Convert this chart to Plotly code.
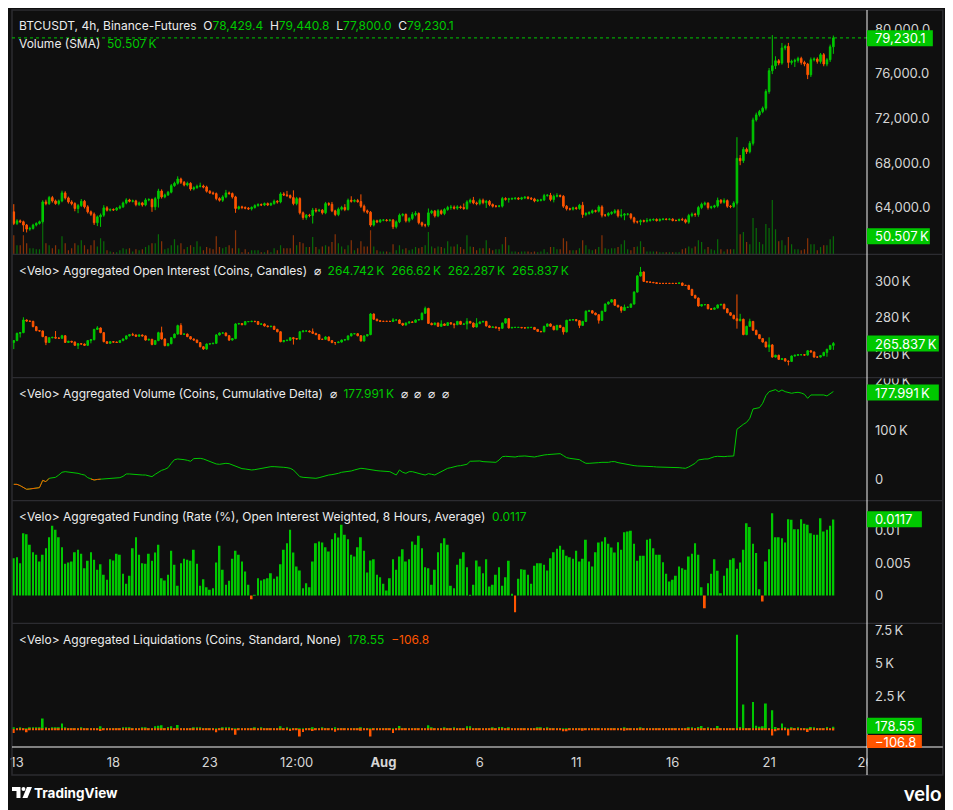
import pandas as pd
import plotly.graph_objects as go

# ---------------- data: BTCUSDT perp, 4h bars from 2024-07-12 20:00 ----------------
first_open_price = 63610
price_close = [
    62570, 62800, 62720, 62420, 62060, 62120, 62420, 62570, 62720, 64500,
    64350, 64890, 64590, 64350, 64590, 65310, 64860, 64500, 64350, 63910,
    64170, 64560, 64060, 63610, 63400, 62630, 63160, 63310, 63970, 63760,
    63820, 63790, 63940, 64060, 64410, 64680, 64560, 64590, 64260, 64410,
    64230, 64680, 64710, 64060, 64800, 65480, 64950, 65130, 65370, 65960,
    66170, 66560, 66260, 66020, 66170, 65660, 65780, 65900, 65930, 65840,
    65460, 65310, 65250, 64800, 64650, 64950, 65310, 65250, 64950, 63910,
    64060, 64000, 63940, 63880, 64000, 64170, 64260, 64230, 64350, 64230,
    64350, 64560, 64500, 65220, 65130, 65070, 64890, 64350, 64800, 63520,
    63100, 63310, 63280, 63760, 63700, 63760, 63520, 64350, 64290, 63700,
    63370, 63850, 64000, 63820, 64650, 64560, 64620, 64530, 64115, 63700,
    63580, 62420, 62805, 62715, 62865, 62865, 62835, 62865, 62270, 62715,
    63310, 63370, 62805, 63015, 63370, 63460, 62630, 62420, 62420, 63520,
    63670, 63250, 63700, 63460, 63820, 64000, 64030, 63940, 64055, 64000,
    63910, 64500, 64650, 64410, 64350, 64650, 64440, 64560, 64265, 64115,
    64115, 64120, 64800, 64740, 64770, 64800, 64830, 64770, 64860, 64920,
    64830, 64770, 64590, 64650, 64680, 65070, 65100, 64710, 65010, 65070,
    65010, 64115, 63880, 63850, 63970, 63910, 64205, 63370, 63460, 63550,
    63700, 63670, 64055, 63310, 63310, 63460, 63550, 63700, 63250, 63310,
    63400, 63400, 63070, 62715, 62715, 62805, 62775, 62835, 62895, 62925,
    62835, 62925, 62955, 62925, 62955, 62835, 62835, 62925, 62895, 62685,
    63280, 63400, 63370, 64000, 64290, 64380, 64000, 64055, 64145, 64650,
    64470, 64620, 64115, 64085, 64410, 68415, 68200, 69226, 69010, 69766,
    71866, 72316, 72614, 72920, 74416, 76280, 76730, 77180, 76974, 78326,
    78470, 77028, 77120, 77210, 77390, 77028, 76884, 75920, 77270, 77330,
    77120, 77722, 76884, 77270, 78429.4, 79230.1,
]
price_wick_up = [
    690, 150, 120, 100, 100, 150, 120, 100, 100, 150,
    200, 150, 150, 120, 120, 200, 150, 120, 150, 120,
    150, 200, 120, 150, 120, 150, 120, 150, 240, 150,
    100, 100, 100, 150, 120, 150, 100, 120, 100, 120,
    100, 150, 120, 100, 150, 200, 150, 120, 120, 150,
    150, 240, 120, 120, 150, 100, 120, 150, 300, 120,
    120, 100, 120, 100, 120, 150, 270, 120, 100, 100,
    100, 100, 100, 100, 100, 120, 120, 100, 100, 100,
    100, 150, 100, 150, 150, 360, 100, 650, 150, 120,
    120, 100, 120, 200, 200, 120, 100, 150, 120, 210,
    100, 150, 150, 300, 150, 360, 120, 150, 650, 150,
    120, 100, 120, 100, 100, 100, 100, 100, 100, 120,
    150, 120, 100, 120, 210, 210, 100, 100, 120, 390,
    120, 100, 150, 120, 120, 150, 200, 150, 150, 120,
    360, 150, 150, 300, 120, 150, 150, 120, 120, 100,
    100, 100, 150, 120, 100, 100, 100, 100, 100, 100,
    100, 100, 100, 100, 100, 150, 100, 210, 150, 210,
    100, 100, 100, 100, 100, 100, 120, 300, 120, 120,
    120, 100, 150, 150, 100, 120, 120, 150, 150, 540,
    100, 100, 100, 100, 100, 120, 100, 210, 100, 100,
    100, 100, 80, 80, 80, 80, 80, 80, 150, 100,
    150, 150, 120, 150, 150, 150, 100, 100, 100, 240,
    100, 200, 100, 100, 150, 1900, 300, 200, 150, 200,
    200, 200, 150, 150, 200, 250, 2750, 400, 150, 450,
    150, 310, 150, 150, 150, 150, 150, 100, 200, 150,
    150, 150, 150, 150, 200, 210.7,
]
price_wick_dn = [
    150, 150, 120, 600, 300, 150, 100, 120, 100, 150,
    150, 120, 150, 100, 150, 120, 150, 150, 150, 250,
    420, 120, 150, 150, 150, 200, 300, 900, 150, 120,
    100, 100, 100, 100, 100, 120, 100, 100, 150, 120,
    150, 120, 120, 450, 300, 800, 150, 120, 100, 100,
    100, 120, 150, 120, 120, 150, 120, 100, 100, 120,
    120, 100, 120, 150, 120, 150, 120, 100, 150, 390,
    120, 150, 100, 100, 150, 100, 100, 100, 100, 100,
    100, 100, 150, 120, 100, 120, 100, 150, 150, 150,
    200, 200, 150, 720, 150, 100, 150, 120, 150, 120,
    150, 150, 120, 150, 100, 120, 100, 100, 150, 150,
    150, 150, 120, 120, 100, 100, 100, 100, 210, 150,
    120, 120, 150, 150, 150, 150, 150, 150, 200, 150,
    120, 150, 120, 120, 150, 120, 200, 120, 150, 120,
    120, 120, 150, 120, 150, 150, 150, 480, 150, 120,
    120, 100, 120, 120, 300, 100, 100, 100, 100, 100,
    100, 100, 120, 100, 100, 100, 100, 150, 250, 100,
    100, 150, 150, 120, 120, 120, 120, 300, 150, 120,
    120, 120, 120, 200, 150, 120, 120, 120, 150, 150,
    450, 120, 150, 150, 150, 300, 120, 120, 100, 100,
    100, 100, 80, 80, 80, 80, 80, 80, 100, 120,
    150, 150, 200, 200, 150, 120, 180, 150, 120, 150,
    150, 120, 150, 150, 120, 150, 400, 200, 200, 150,
    200, 150, 150, 150, 200, 200, 300, 300, 200, 150,
    200, 500, 200, 500, 200, 200, 200, 390, 200, 150,
    200, 200, 200, 200, 200, 629.4,
]
volume_k = [
    53, 25, 25, 53, 31, 17, 17, 14, 14, 87,
    31, 25, 17, 25, 14, 50, 31, 11, 17, 31,
    25, 39, 25, 14, 25, 39, 22, 45, 36, 11,
    8, 6, 6, 11, 17, 14, 17, 8, 14, 11,
    14, 20, 25, 31, 31, 56, 36, 14, 17, 25,
    42, 25, 31, 14, 20, 25, 20, 36, 22, 11,
    20, 17, 14, 50, 20, 17, 20, 25, 17, 67,
    17, 6, 14, 6, 11, 11, 11, 6, 6, 11,
    6, 17, 11, 25, 17, 17, 17, 53, 25, 34,
    31, 20, 20, 48, 20, 14, 22, 25, 22, 34,
    56, 31, 22, 14, 25, 39, 11, 17, 36, 22,
    22, 67, 22, 11, 8, 8, 8, 6, 28, 11,
    25, 14, 17, 11, 14, 20, 17, 20, 25, 62,
    22, 17, 22, 20, 17, 36, 22, 22, 28, 20,
    14, 53, 22, 20, 11, 17, 17, 39, 17, 11,
    14, 14, 28, 48, 25, 8, 8, 6, 8, 8,
    8, 6, 8, 6, 8, 14, 6, 20, 20, 14,
    14, 45, 36, 11, 11, 11, 17, 39, 25, 14,
    11, 14, 20, 53, 17, 14, 17, 17, 20, 28,
    39, 14, 11, 20, 22, 36, 20, 8, 8, 8,
    8, 6, 6, 6, 6, 6, 6, 6, 14, 17,
    22, 17, 22, 39, 34, 14, 20, 14, 11, 42,
    14, 8, 14, 14, 14, 143, 56, 62, 34, 28,
    101, 73, 34, 28, 84, 73, 151, 70, 36, 39,
    25, 48, 28, 14, 14, 11, 14, 45, 28, 28,
    11, 20, 25, 25, 42, 50.507,
]

first_open_oi = 266.3
oi_close = [
    267.4, 271.4, 271.8, 278.8, 278.2, 278.05, 275.1, 272.9, 272.7, 269.6,
    266.4, 269.0, 269.2, 268.8, 268.7, 270.1, 266.4, 267.0, 266.6, 264.8,
    265.7, 265.5, 264.8, 267.4, 267.9, 273.6, 274.4, 271.8, 266.8, 265.9,
    266.8, 266.6, 266.4, 267.4, 268.3, 270.0, 270.7, 270.5, 269.8, 270.5,
    270.0, 267.7, 268.1, 265.3, 267.4, 271.8, 268.3, 264.6, 265.7, 269.0,
    271.0, 275.7, 270.9, 271.0, 269.6, 268.3, 267.7, 266.3, 264.0, 262.8,
    265.5, 265.7, 265.9, 270.5, 271.6, 271.6, 270.1, 267.7, 268.5, 276.6,
    276.8, 276.2, 277.9, 277.9, 278.05, 277.9, 276.4, 276.6, 275.5, 275.1,
    275.3, 273.6, 272.3, 266.8, 267.4, 267.6, 269.0, 268.5, 268.3, 272.3,
    272.7, 272.7, 272.3, 271.4, 270.7, 268.1, 268.1, 269.4, 267.4, 266.3,
    266.3, 266.6, 267.7, 267.9, 270.0, 271.2, 271.2, 270.1, 267.2, 270.0,
    270.7, 282.1, 279.2, 278.4, 278.05, 278.05, 278.05, 278.0, 278.8, 278.8,
    276.9, 276.0, 277.1, 277.7, 277.5, 278.8, 279.0, 282.5, 285.2, 276.9,
    276.2, 277.1, 275.3, 276.6, 275.8, 277.3, 276.6, 276.2, 278.0, 276.4,
    276.6, 278.0, 277.1, 274.9, 276.8, 277.7, 278.0, 275.5, 274.7, 274.9,
    274.5, 274.2, 277.1, 279.5, 274.4, 274.7, 274.7, 274.7, 274.5, 274.4,
    274.7, 274.7, 273.6, 272.5, 272.3, 275.3, 276.6, 275.3, 273.4, 275.8,
    274.7, 272.2, 278.6, 278.8, 279.0, 278.4, 275.8, 278.0, 283.6, 283.9,
    282.6, 281.7, 278.6, 283.6, 287.6, 288.7, 290.0, 286.9, 286.0, 284.1,
    285.8, 285.8, 287.6, 294.2, 303.1, 305.3, 300.1, 299.8, 299.6, 299.4,
    299.0, 299.0, 299.0, 299.0, 299.0, 299.0, 299.0, 299.2, 297.9, 297.9,
    295.7, 292.4, 290.9, 286.5, 287.3, 287.3, 285.0, 284.7, 285.4, 287.1,
    287.4, 285.0, 282.8, 281.4, 279.5, 278.4, 279.2, 270.7, 275.3, 278.0,
    273.1, 270.7, 268.5, 266.6, 263.9, 265.0, 258.3, 259.3, 257.0, 257.4,
    256.1, 255.9, 258.9, 259.3, 259.6, 259.6, 259.4, 261.8, 261.1, 258.3,
    258.3, 259.1, 260.9, 262.6, 264.742, 265.837,
]
oi_wick_up = [
    0.3, 0.4, 0.3, 1.5, 0.3, 0.2, 0.3, 0.3, 0.3, 0.3,
    0.3, 0.3, 0.3, 3.5, 0.3, 0.5, 0.3, 0.3, 0.3, 0.3,
    0.3, 0.3, 0.3, 0.3, 0.3, 0.3, 1.0, 0.3, 0.3, 0.3,
    0.3, 0.2, 0.2, 0.3, 0.3, 0.3, 0.3, 1.0, 0.3, 0.3,
    0.3, 0.3, 0.3, 0.3, 0.3, 0.5, 3.3, 0.3, 0.3, 0.3,
    0.3, 0.5, 1.3, 0.3, 0.3, 0.3, 0.3, 0.3, 0.3, 0.3,
    0.3, 0.3, 0.3, 0.5, 0.3, 0.3, 0.3, 0.3, 0.3, 0.4,
    0.4, 0.3, 0.3, 0.3, 0.3, 0.3, 0.3, 0.3, 0.3, 0.3,
    0.3, 0.3, 0.3, 0.3, 0.3, 0.3, 0.3, 0.3, 0.3, 0.3,
    0.3, 0.3, 0.3, 1.8, 0.3, 0.3, 0.3, 0.5, 0.3, 0.3,
    0.3, 0.3, 0.3, 0.3, 0.3, 0.3, 0.3, 0.3, 0.3, 0.3,
    0.3, 0.5, 0.3, 0.3, 0.2, 0.2, 0.2, 0.2, 1.0, 0.3,
    0.3, 0.3, 0.3, 0.3, 0.3, 0.3, 0.3, 0.5, 1.0, 0.3,
    0.5, 0.3, 0.3, 2.0, 0.3, 0.3, 0.3, 0.3, 0.3, 0.3,
    0.3, 1.8, 0.3, 0.3, 3.0, 0.3, 0.3, 0.3, 0.3, 0.3,
    0.3, 0.3, 0.3, 0.3, 0.3, 0.2, 0.2, 0.2, 0.2, 0.2,
    0.2, 0.2, 0.2, 0.2, 0.2, 0.3, 0.3, 0.3, 0.3, 0.3,
    0.3, 0.3, 0.3, 0.3, 0.3, 0.3, 0.3, 0.3, 0.5, 0.5,
    0.3, 0.3, 0.3, 0.3, 0.3, 0.3, 0.3, 0.3, 0.3, 0.3,
    1.5, 0.3, 0.3, 0.5, 0.5, 2.8, 0.3, 0.2, 0.2, 0.2,
    0.2, 0.2, 0.2, 0.2, 0.2, 0.2, 0.2, 0.2, 0.3, 0.3,
    0.3, 0.3, 0.3, 0.3, 0.3, 0.3, 0.3, 0.3, 0.3, 0.3,
    0.3, 0.5, 0.3, 0.3, 0.3, 13.4, 3.0, 0.3, 0.3, 1.5,
    0.3, 0.3, 0.3, 0.3, 0.3, 4.2, 0.5, 0.3, 0.3, 0.3,
    0.3, 0.3, 0.3, 0.3, 0.3, 0.3, 0.3, 0.3, 0.3, 0.3,
    0.3, 0.3, 0.3, 0.3, 0.3, 0.783,
]
oi_wick_dn = [
    3.6, 0.3, 2.3, 0.3, 0.3, 0.3, 0.3, 0.3, 0.3, 0.3,
    1.5, 0.3, 0.3, 0.3, 0.3, 0.3, 0.3, 0.3, 0.3, 0.3,
    2.0, 0.3, 0.3, 0.3, 1.5, 0.3, 0.3, 0.3, 0.3, 0.3,
    0.3, 0.3, 0.3, 0.3, 0.3, 0.3, 0.3, 0.3, 0.3, 0.3,
    0.3, 0.3, 0.3, 0.5, 0.3, 0.3, 0.3, 0.3, 0.3, 0.3,
    0.3, 0.3, 0.3, 0.3, 0.3, 0.3, 0.3, 0.3, 0.3, 0.5,
    0.5, 0.3, 0.3, 0.3, 0.3, 0.3, 0.3, 0.5, 0.3, 0.3,
    0.3, 0.3, 0.3, 0.3, 0.3, 0.3, 0.3, 0.3, 0.3, 0.3,
    0.3, 0.3, 0.3, 0.3, 0.3, 0.3, 0.3, 3.3, 0.3, 0.5,
    0.3, 0.3, 0.3, 0.3, 0.3, 0.3, 0.3, 0.3, 0.3, 0.3,
    1.3, 0.3, 0.3, 0.3, 0.3, 0.3, 0.3, 0.3, 0.3, 0.3,
    0.3, 0.3, 0.3, 0.3, 0.2, 0.2, 0.2, 0.2, 0.3, 0.3,
    0.3, 0.5, 0.3, 0.3, 0.3, 0.3, 0.3, 0.3, 0.3, 0.3,
    0.3, 0.3, 0.3, 0.3, 0.3, 0.3, 0.3, 2.0, 0.3, 0.3,
    0.3, 3.0, 0.3, 0.3, 0.3, 0.3, 0.3, 0.3, 0.3, 0.3,
    0.3, 1.5, 0.3, 0.3, 0.3, 0.2, 0.2, 0.2, 0.2, 0.2,
    0.2, 0.2, 0.2, 0.2, 0.2, 0.3, 0.3, 0.3, 0.3, 0.3,
    0.3, 1.5, 0.3, 0.3, 0.3, 0.3, 1.5, 0.3, 0.3, 0.3,
    0.3, 0.3, 1.8, 0.3, 0.3, 0.3, 0.3, 0.3, 0.3, 1.3,
    0.3, 0.3, 0.3, 0.3, 0.3, 0.3, 0.3, 0.2, 0.2, 0.2,
    0.2, 0.2, 0.2, 0.2, 0.2, 0.2, 0.2, 0.2, 0.3, 0.3,
    0.3, 0.3, 0.3, 0.3, 0.3, 0.5, 0.3, 0.3, 0.3, 0.3,
    0.3, 0.3, 0.3, 0.3, 0.3, 4.4, 0.3, 0.3, 0.3, 0.3,
    0.3, 0.3, 0.3, 0.3, 0.3, 2.8, 0.3, 0.3, 0.3, 0.3,
    0.3, 2.2, 0.3, 0.3, 0.3, 0.3, 0.3, 0.3, 0.3, 0.3,
    0.3, 0.3, 0.3, 2.4, 0.3, 2.455,
]
cvd_k = [
    -10.2, -10.2, -12.9, -16.9, -20.3, -19.6, -18.3, -18.3, -16.9, -2.1,
    -4.8, 2.0, 3.3, 4.0, 8.7, 14.2, 15.5, 14.8, 14.2, 13.5,
    12.1, 10.1, 8.7, 3.3, 0.6, -1.4, -0.3, 0.2, 0.4, 0.5,
    0.6, 0.8, 2.0, 3.3, 6.0, 10.8, 10.8, 10.1, 8.7, 8.7,
    8.7, 8.7, 6.7, 5.3, 10.1, 14.2, 18.2, 20.2, 23.6, 32.4,
    39.8, 41.2, 41.2, 39.8, 38.5, 36.5, 41.9, 42.5, 42.5, 41.2,
    38.5, 35.8, 32.4, 31.1, 30.4, 31.7, 32.4, 31.7, 29.0, 26.3,
    23.6, 21.6, 20.9, 19.6, 18.9, 19.6, 20.9, 22.3, 24.3, 25.0,
    25.6, 25.6, 25.6, 25.0, 24.3, 23.6, 22.3, 18.9, 12.1, 5.3,
    4.0, 3.3, 2.6, 2.0, 2.0, 3.3, 5.3, 7.4, 8.7, 9.4,
    10.1, 12.1, 14.2, 14.8, 15.5, 16.9, 18.9, 20.9, 22.3, 21.6,
    20.2, 18.9, 18.2, 17.5, 16.9, 16.2, 15.5, 15.5, 12.1, 8.7,
    18.9, 14.2, 12.1, 15.5, 15.5, 14.2, 12.1, 10.1, 8.7, 11.4,
    10.1, 8.7, 12.1, 15.5, 18.9, 22.3, 23.6, 25.6, 27.0, 27.7,
    28.4, 30.4, 36.5, 37.2, 37.2, 37.2, 35.8, 35.8, 35.1, 34.4,
    34.4, 39.2, 45.9, 46.6, 45.9, 45.9, 45.2, 46.6, 47.3, 47.3,
    46.6, 45.9, 45.2, 46.6, 48.6, 49.3, 50.0, 50.6, 51.3, 52.0,
    52.0, 48.0, 43.9, 42.5, 41.2, 40.5, 39.8, 35.8, 32.4, 32.4,
    32.4, 32.4, 33.8, 34.4, 33.8, 34.4, 35.8, 35.8, 33.8, 32.4,
    32.4, 31.1, 29.0, 27.7, 27.0, 27.0, 26.3, 26.3, 25.6, 25.6,
    25.0, 25.0, 25.0, 25.0, 24.3, 24.3, 23.6, 23.6, 22.9, 22.3,
    25.0, 29.0, 32.4, 39.2, 40.5, 41.2, 41.2, 43.9, 45.9, 46.6,
    45.9, 45.9, 46.6, 46.6, 47.3, 101.4, 106.8, 111.5, 115.5, 123.7,
    142.6, 144.0, 145.3, 154.1, 169.6, 177.7, 180.4, 181.8, 177.7, 181.1,
    177.7, 175.7, 174.4, 175.7, 176.4, 175.0, 172.3, 164.2, 171.0, 171.0,
    171.0, 172.3, 171.0, 169.0, 174.4, 177.991,
]
funding = [
    0.00575, 0.00590, 0.00498, 0.00959, 0.00944, 0.00780, 0.00667, 0.00626, 0.00523, 0.00626,
    0.00728, 0.00898, 0.01072, 0.01011, 0.00898, 0.00744, 0.00487, 0.00508, 0.00523, 0.00667,
    0.00703, 0.00641, 0.00421, 0.00534, 0.00667, 0.00549, 0.00395, 0.00482, 0.00318, 0.00241,
    0.00559, 0.00539, 0.00641, 0.00626, 0.00333, 0.00180, 0.00303, 0.00728, 0.00898, 0.00626,
    0.00498, 0.00487, 0.00641, 0.00534, 0.00662, 0.00780, 0.00267, 0.00231, 0.00318, 0.00687,
    0.00472, 0.00149, 0.00498, 0.00564, 0.00549, 0.00534, 0.00703, 0.00487, 0.00149, 0.00251,
    0.00128, 0.00087, 0.00113, 0.00508, 0.00764, 0.00395, 0.00164, 0.00226, 0.00564, 0.00687,
    0.00626, 0.00523, 0.00369, 0.00164, -0.00056, 0.00010, 0.00267, 0.00231, 0.00251, 0.00267,
    0.00344, 0.00257, 0.00292, 0.00482, 0.00703, 0.00805, 0.01011, 0.00662, 0.00446, 0.00385,
    0.00113, 0.00190, 0.00128, 0.00523, 0.00805, 0.00831, 0.00816, 0.00744, 0.00677, 0.00867,
    0.00959, 0.00893, 0.01088, 0.00934, 0.00867, 0.00626, 0.00600, 0.00744, 0.00898, 0.00687,
    0.00354, 0.00539, 0.00559, 0.00318, 0.00282, 0.00180, 0.00077, 0.00267, 0.00559, 0.00395,
    0.00600, 0.00713, 0.00523, 0.00559, 0.00831, 0.00780, 0.00918, 0.00728, 0.00436, 0.00421,
    0.00164, 0.00395, 0.00667, 0.00805, 0.00882, 0.00780, 0.00149, 0.00113, 0.00472, 0.00564,
    0.00667, 0.00436, 0.00010, 0.00164, 0.00539, 0.00446, 0.00344, 0.00559, 0.00139, 0.00164,
    0.00318, 0.00436, 0.00149, 0.00282, 0.00534, 0.00021, -0.00257, 0.00257, 0.00405, 0.00395,
    0.00318, 0.00180, 0.00457, 0.00498, 0.00498, 0.00472, 0.00385, 0.00575, 0.00667, 0.00718,
    0.00764, 0.00703, 0.00610, 0.00590, 0.00564, 0.00687, 0.00523, 0.00564, 0.00857, 0.00523,
    0.00446, 0.00667, 0.00816, 0.00831, 0.00898, 0.00795, 0.00739, 0.00662, 0.00821, 0.00703,
    0.00975, 0.00985, 0.00995, 0.00795, 0.00534, 0.00610, 0.00610, 0.00857, 0.00872, 0.00728,
    0.00626, 0.00626, 0.00513, 0.00333, 0.00215, 0.00241, 0.00303, 0.00446, 0.00421, 0.00395,
    0.00600, 0.00641, 0.00805, 0.00626, 0.00128, -0.00195, 0.00190, 0.00333, 0.00559, 0.00380,
    0.00036, 0.00303, 0.00421, 0.00549, 0.00575, 0.00410, 0.00508, 0.00703, 0.01113, 0.01052,
    0.00795, 0.00652, 0.00097, -0.00092, 0.00523, 0.00713, 0.01267, 0.00898, 0.00898, 0.00882,
    0.00816, 0.01175, 0.01165, 0.01021, 0.01021, 0.01175, 0.01103, 0.01088, 0.00959, 0.00934,
    0.00934, 0.01190, 0.00985, 0.01011, 0.01072, 0.0117,
]
liq_long = [
    77, 20, 77, 51, 20, 77, 77, 128, 128, 794,
    77, 51, 102, 77, 102, 410, 77, 51, 20, 51,
    20, 128, 20, 51, 20, 20, 20, 205, 20, 20,
    20, 20, 20, 20, 77, 102, 77, 20, 20, 20,
    77, 77, 20, 20, 205, 256, 282, 20, 154, 205,
    20, 307, 20, 20, 20, 20, 77, 77, 77, 20,
    20, 20, 20, 20, 20, 77, 77, 77, 20, 20,
    20, 20, 20, 20, 20, 77, 20, 77, 20, 20,
    20, 51, 20, 205, 20, 128, 20, 20, 20, 20,
    20, 51, 20, 128, 20, 20, 77, 51, 20, 20,
    77, 51, 20, 20, 51, 20, 20, 20, 128, 20,
    20, 20, 20, 20, 20, 20, 20, 20, 20, 20,
    230, 20, 20, 20, 51, 51, 20, 20, 20, 282,
    102, 20, 51, 20, 77, 20, 20, 77, 20, 20,
    20, 205, 205, 20, 20, 51, 51, 20, 20, 77,
    20, 154, 154, 20, 77, 20, 20, 20, 20, 20,
    20, 20, 20, 77, 77, 20, 77, 20, 51, 20,
    20, 20, 20, 20, 20, 51, 20, 20, 20, 20,
    20, 20, 51, 20, 20, 20, 20, 51, 20, 20,
    77, 20, 20, 20, 20, 77, 20, 20, 20, 20,
    20, 20, 20, 20, 20, 20, 20, 20, 51, 20,
    77, 77, 20, 154, 230, 20, 77, 20, 20, 230,
    20, 20, 20, 20, 20, 7168, 154, 1869, 51, 20,
    2048, 256, 179, 205, 1946, 20, 1434, 154, 20, 410,
    128, 20, 77, 20, 77, 51, 20, 20, 154, 77,
    20, 51, 20, 154, 20, 178.55,
]
liq_short = [
    -307, -60, -102, -60, -256, -60, -60, -60, -60, -60,
    -60, -60, -60, -60, -60, -60, -60, -60, -60, -60,
    -60, -60, -102, -60, -60, -102, -60, -154, -60, -60,
    -60, -60, -60, -60, -60, -60, -60, -60, -60, -60,
    -60, -60, -60, -102, -60, -60, -60, -60, -60, -60,
    -60, -60, -60, -60, -60, -60, -60, -60, -60, -60,
    -60, -60, -60, -256, -60, -60, -60, -60, -60, -435,
    -60, -60, -60, -60, -60, -60, -60, -60, -60, -60,
    -60, -60, -60, -60, -60, -60, -154, -60, -60, -563,
    -230, -60, -60, -154, -60, -60, -60, -60, -60, -60,
    -205, -60, -60, -60, -60, -60, -60, -60, -128, -60,
    -60, -563, -60, -60, -60, -60, -60, -60, -307, -60,
    -60, -60, -60, -60, -60, -60, -60, -60, -102, -60,
    -60, -60, -60, -60, -60, -60, -60, -60, -60, -60,
    -60, -60, -60, -60, -60, -60, -60, -60, -60, -60,
    -60, -60, -60, -60, -60, -60, -60, -60, -60, -60,
    -60, -60, -60, -60, -60, -60, -60, -60, -60, -60,
    -60, -179, -179, -60, -60, -60, -60, -128, -60, -60,
    -60, -60, -102, -60, -60, -60, -60, -60, -60, -60,
    -128, -60, -60, -60, -102, -60, -60, -60, -60, -60,
    -60, -60, -60, -60, -60, -60, -60, -60, -60, -60,
    -60, -60, -60, -60, -60, -60, -60, -60, -60, -60,
    -60, -60, -60, -60, -60, -60, -60, -60, -60, -60,
    -60, -102, -60, -60, -77, -60, -486, -179, -102, -60,
    -60, -486, -102, -60, -60, -60, -60, -230, -60, -60,
    -60, -60, -60, -60, -60, -106.8,
]

tick_dates = ["2024-07-13", "2024-07-18", "2024-07-23", "2024-07-27 12:00", "2024-08-01",
              "2024-08-06", "2024-08-11", "2024-08-16", "2024-08-21", "2024-08-26"]
tick_text = ["13", "18", "23", "12:00", "<b>Aug</b>", "6", "11", "16", "21", "26"]

# ---------------- styling ----------------
BG = "#0f0f0f"
GREEN = "#00c800"
RED = "#ff5500"
GREEN_DIM = "rgba(0,200,0,0.5)"
RED_DIM = "rgba(255,85,0,0.5)"
TXT = "#d6d6d6"
SEP = "#2c2c31"
FONT = "Inter, Roboto, sans-serif"

# page pixels of the plotting area; the page body adds an 8px offset to the figure
PAGE_OFF = 8
L, R, T, B = 10, 867, 10, 747
FIG_W, FIG_H = 953 - PAGE_OFF, 810 - PAGE_OFF


def px(x):
    return (x - L) / (R - L)


def py(y):
    return (B - y) / (B - T)


n = len(price_close)
times = pd.date_range("2024-07-12 20:00", periods=n, freq="4h")

price_open = [first_open_price] + price_close[:-1]
price_high = [max(o, c) + w for o, c, w in zip(price_open, price_close, price_wick_up)]
price_low = [min(o, c) - w for o, c, w in zip(price_open, price_close, price_wick_dn)]
oi_open = [first_open_oi] + oi_close[:-1]
oi_high = [max(o, c) + w for o, c, w in zip(oi_open, oi_close, oi_wick_up)]
oi_low = [min(o, c) - w for o, c, w in zip(oi_open, oi_close, oi_wick_dn)]

vol_colors = [GREEN_DIM if c >= o else RED_DIM for o, c in zip(price_open, price_close)]
fund_colors = [GREEN if v >= 0 else RED for v in funding]
cvd_neg = [v if (v < 0 or (i > 0 and cvd_k[i - 1] < 0) or (i + 1 < n and cvd_k[i + 1] < 0)) else None
           for i, v in enumerate(cvd_k)]

candle_style = dict(
    increasing=dict(line=dict(color=GREEN, width=1), fillcolor=GREEN),
    decreasing=dict(line=dict(color=RED, width=1), fillcolor=RED),
    whiskerwidth=0,
)

fig = go.Figure()
fig.add_trace(go.Bar(x=times, y=volume_k, marker=dict(color=vol_colors, line=dict(width=0)),
                     width=5.4e6, xaxis="x", yaxis="y6"))
fig.add_trace(go.Candlestick(x=times, open=price_open, high=price_high, low=price_low,
                             close=price_close, xaxis="x", yaxis="y", **candle_style))
fig.add_trace(go.Candlestick(x=times, open=oi_open, high=oi_high, low=oi_low,
                             close=oi_close, xaxis="x", yaxis="y2", **candle_style))
fig.add_trace(go.Scatter(x=times, y=cvd_k, mode="lines", line=dict(color=GREEN, width=1),
                         xaxis="x", yaxis="y3"))
fig.add_trace(go.Scatter(x=times, y=cvd_neg, mode="lines", line=dict(color=RED, width=1),
                         connectgaps=False, xaxis="x", yaxis="y3"))
fig.add_trace(go.Bar(x=times, y=funding, marker=dict(color=fund_colors, line=dict(width=0)),
                     width=8.2e6, xaxis="x", yaxis="y4"))
fig.add_trace(go.Bar(x=times, y=liq_long, marker=dict(color=GREEN, line=dict(width=0)),
                     width=8.2e6, xaxis="x", yaxis="y5"))
fig.add_trace(go.Bar(x=times, y=liq_short, marker=dict(color=RED, line=dict(width=0)),
                     width=8.2e6, xaxis="x", yaxis="y5"))

yax = dict(side="right", anchor="x", showgrid=False, zeroline=False, showline=False,
           ticks="", ticklabelstandoff=7, automargin=False, fixedrange=True,
           tickfont=dict(family=FONT, size=13, color=TXT))

fig.update_layout(
    width=FIG_W, height=FIG_H,
    margin=dict(l=L - PAGE_OFF, r=953 - R, t=T - PAGE_OFF, b=810 - B),
    paper_bgcolor=BG, plot_bgcolor=BG,
    showlegend=False, hovermode=False, barmode="overlay", boxgap=0.3,
    font=dict(family=FONT, color=TXT),
    xaxis=dict(type="date", range=["2024-07-12 17:47", "2024-08-26 01:51"],
               anchor="y5", showgrid=False, zeroline=False, showline=False, ticks="",
               tickvals=tick_dates, ticktext=tick_text, ticklabelstandoff=6,
               tickfont=dict(family=FONT, size=13, color=TXT),
               rangeslider=dict(visible=False), fixedrange=True),
    yaxis=dict(domain=[py(254.3), 1], range=[59797, 81736],
               tickvals=[64000, 68000, 72000, 76000, 80000], tickformat=",.1f", **yax),
    yaxis6=dict(domain=[py(254.3), 1], range=[0, 680], overlaying="y", visible=False,
                anchor="x", fixedrange=True),
    yaxis2=dict(domain=[py(377.7), py(254.3)], range=[246.91, 315.08],
                tickvals=[260, 280, 300], ticktext=["260\u2009K", "280\u2009K", "300\u2009K"], **yax),
    yaxis3=dict(domain=[py(500.7), py(377.7)], range=[-43.4, 206.0],
                tickvals=[0, 100, 200], ticktext=["0", "100\u2009K", "200\u2009K"], **yax),
    yaxis4=dict(domain=[py(623.3), py(500.7)], range=[-0.004277, 0.014585],
                tickvals=[0, 0.005, 0.01], ticktext=["0", "0.005", "0.01"], **yax),
    yaxis5=dict(domain=[0, py(623.3)], range=[-1368, 8033],
                tickvals=[2500, 5000, 7500], ticktext=["2.5\u2009K", "5\u2009K", "7.5\u2009K"], **yax),
)

shapes = []
# mask the clipped parts of scale labels
shapes.append(dict(type="rect", xref="paper", yref="paper", x0=px(867.5), x1=px(942), y0=py(378.2),
                   y1=py(371), fillcolor=BG, line=dict(width=0), layer="above"))
shapes.append(dict(type="rect", xref="paper", yref="paper", x0=px(867.5), x1=px(942), y0=py(774),
                   y1=py(748), fillcolor=BG, line=dict(width=0), layer="above"))
# pane separators
for ys in [254.3, 377.7, 500.7, 623.3]:
    shapes.append(dict(type="line", xref="paper", yref="paper", x0=px(10), x1=px(943),
                       y0=py(ys), y1=py(ys), line=dict(color=SEP, width=1.2), layer="above"))
# outer frame
shapes.append(dict(type="rect", xref="paper", yref="paper", x0=px(10), x1=px(943), y0=py(775),
                   y1=py(10), line=dict(color=SEP, width=1.5), layer="above"))
# last price line
shapes.append(dict(type="line", xref="paper", yref="y", x0=0, x1=1, y0=price_close[-1],
                   y1=price_close[-1], line=dict(color=GREEN, width=1, dash="dot"), layer="above"))
# scale borders
shapes.append(dict(type="line", xref="paper", yref="paper", x0=px(867), x1=px(867), y0=py(775),
                   y1=py(10), line=dict(color="#f2f2f2", width=1), layer="above"))
shapes.append(dict(type="line", xref="paper", yref="paper", x0=px(10), x1=px(943), y0=py(747),
                   y1=py(747), line=dict(color="#f2f2f2", width=1), layer="above"))


def box(x1, yc, color, text, h=16):
    shapes.append(dict(type="rect", xref="paper", yref="paper", x0=px(867), x1=px(x1),
                       y0=py(yc + h / 2), y1=py(yc - h / 2), fillcolor=color,
                       line=dict(width=0), layer="above"))
    return dict(x=px(873), y=py(yc), xref="paper", yref="paper", xanchor="left", yanchor="middle",
                text=text, showarrow=False, font=dict(family=FONT, size=13, color="#ffffff"))


def fmt_k(v):
    s = f"{v:.3f}".rstrip("0").rstrip(".")
    return s + "\u2009K"


ann = []
ann.append(box(933, 38.3, GREEN, f"{price_close[-1]:,.1f}"))
ann.append(box(930, 236.3, GREEN, fmt_k(volume_k[-1])))
ann.append(box(939, 343.5, GREEN, fmt_k(oi_close[-1])))
ann.append(box(939, 392.5, GREEN, fmt_k(cvd_k[-1])))
ann.append(box(922, 519.3, GREEN, f"{funding[-1]}"))
ann.append(box(922, 725.7, GREEN, f"{liq_long[-1]}"))
ann.append(box(922, 741.5, RED, "\u2212" + f"{abs(liq_short[-1])}", h=13))


def g(t):
    return f"<span style='color:{GREEN}'>{t}</span>"


def o(t):
    return f"<span style='color:{RED}'>{t}</span>"


sp = "\u00a0\u00a0"
titles = [
    (25.7, "BTCUSDT, 4h, Binance-Futures" + sp + "O" + g(f"{price_open[-1]:,.1f}") + sp + "H"
     + g(f"{price_high[-1]:,.1f}") + sp + "L" + g(f"{price_low[-1]:,.1f}") + sp + "C"
     + g(f"{price_close[-1]:,.1f}")),
    (43.0, "Volume (SMA)" + sp + g(fmt_k(volume_k[-1]))),
    (270.7, "&lt;Velo&gt; Aggregated Open Interest (Coins, Candles)" + sp + "\u2300" + sp
     + g(fmt_k(oi_open[-1])) + sp + g(fmt_k(oi_high[-1])) + sp + g(fmt_k(oi_low[-1])) + sp
     + g(fmt_k(oi_close[-1]))),
    (393.3, "&lt;Velo&gt; Aggregated Volume (Coins, Cumulative Delta)" + sp + "\u2300" + sp
     + g(fmt_k(cvd_k[-1])) + sp + "\u2300" + sp + "\u2300" + sp + "\u2300" + sp + "\u2300"),
    (516.7, "&lt;Velo&gt; Aggregated Funding (Rate (%), Open Interest Weighted, 8 Hours, Average)"
     + sp + g(f"{funding[-1]}")),
    (639.3, "&lt;Velo&gt; Aggregated Liquidations (Coins, Standard, None)" + sp
     + g(f"{liq_long[-1]}") + sp + o("\u2212" + f"{abs(liq_short[-1])}")),
]
for yy, txt in titles:
    ann.append(dict(x=px(15), y=py(yy), xref="paper", yref="paper", xanchor="left",
                    yanchor="middle", text=txt, showarrow=False,
                    font=dict(family=FONT, size=12, color="#ececec")))


# footer: TradingView mark + wordmark, velo wordmark
def pth(points):
    return "M " + " L ".join(f"{px(a)},{py(b)}" for a, b in points) + " Z"


shapes.append(dict(type="path", xref="paper", yref="paper", fillcolor="#ffffff", line=dict(width=0),
                   path=pth([(10, 787), (18.5, 787), (18.5, 798), (14.5, 798), (14.5, 791), (10, 791)])))
shapes.append(dict(type="circle", xref="paper", yref="paper", fillcolor="#ffffff", line=dict(width=0),
                   x0=px(19.5), x1=px(23.5), y0=py(791), y1=py(787)))
shapes.append(dict(type="path", xref="paper", yref="paper", fillcolor="#ffffff", line=dict(width=0),
                   path=pth([(25, 787), (30, 787), (25.5, 798), (20.5, 798)])))
ann.append(dict(x=px(30), y=py(793), xref="paper", yref="paper", xanchor="left", yanchor="middle",
                text="<b>TradingView</b>", showarrow=False,
                font=dict(family=FONT, size=13.5, color="#ffffff")))
ann.append(dict(x=px(943), y=py(793), xref="paper", yref="paper", xanchor="right", yanchor="middle",
                text="<b>velo</b>", showarrow=False,
                font=dict(family="Lato, Inter, sans-serif", size=20, color="#ffffff")))

fig.update_layout(shapes=shapes, annotations=ann)
fig.write_html("out.html")
